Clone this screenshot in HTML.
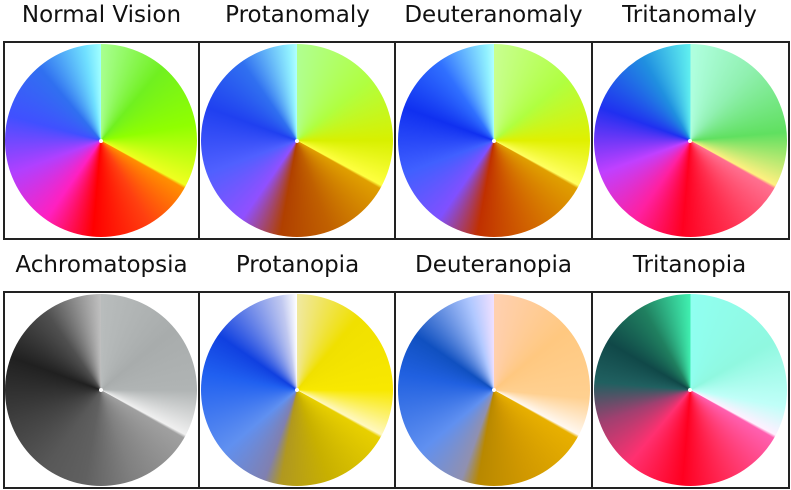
<!DOCTYPE html>
<html><head><meta charset="utf-8">
<style>
html,body{margin:0;padding:0;background:#fff;}
body{width:791px;height:490px;position:relative;overflow:hidden;font-family:"DejaVu Sans","Liberation Sans",sans-serif;}
.t{position:absolute;width:197px;text-align:center;font-size:23px;color:#111;white-space:nowrap;}
.box{position:absolute;border:2px solid #222;box-sizing:border-box;}
.w{position:absolute;border-radius:50%;}
.d{position:absolute;width:4px;height:4px;border-radius:50%;background:#fff;}
</style></head><body>
<div class="t" style="left:3px;top:2px">Normal Vision</div>
<div class="t" style="left:199px;top:2px">Protanomaly</div>
<div class="t" style="left:395px;top:2px">Deuteranomaly</div>
<div class="t" style="left:591px;top:2px">Tritanomaly</div>
<div class="t" style="left:3px;top:252px">Achromatopsia</div>
<div class="t" style="left:199px;top:252px">Protanopia</div>
<div class="t" style="left:395px;top:252px">Deuteranopia</div>
<div class="t" style="left:591px;top:252px">Tritanopia</div>

<div class="box" style="left:3px;top:41px;width:787px;height:199px"></div>
<div class="box" style="left:3px;top:291px;width:787px;height:198px"></div>
<div style="position:absolute;left:198px;top:41px;width:2px;height:199px;background:#222"></div>
<div style="position:absolute;left:394px;top:41px;width:2px;height:199px;background:#222"></div>
<div style="position:absolute;left:591px;top:41px;width:2px;height:199px;background:#222"></div>
<div style="position:absolute;left:198px;top:291px;width:2px;height:198px;background:#222"></div>
<div style="position:absolute;left:394px;top:291px;width:2px;height:198px;background:#222"></div>
<div style="position:absolute;left:591px;top:291px;width:2px;height:198px;background:#222"></div>

<div class="w" style="left:5px;top:44px;width:192px;height:193px;background:conic-gradient(#a8ff90 0deg,#70f020 40deg,#90ff00 80deg,#f0ff20 118deg,#ff9000 120deg,#ff4010 150deg,#ff0000 185deg,#ff20c0 215deg,#b040ff 250deg,#4050ff 285deg,#3070f0 320deg,#70e0ff 350deg,#a0ffff 360deg)"></div>
<div class="w" style="left:201px;top:44px;width:192px;height:193px;background:conic-gradient(#b0ff90 0deg,#b0ff40 50deg,#d8f000 90deg,#ffff40 118deg,#e0a000 120deg,#c06000 160deg,#b04000 190deg,#9050ff 215deg,#5060ff 250deg,#2040f0 290deg,#3070f0 325deg,#90f0ff 355deg,#b0ffff 360deg)"></div>
<div class="w" style="left:398px;top:44px;width:192px;height:193px;background:conic-gradient(#c8ff90 0deg,#b0ff40 50deg,#e0f000 90deg,#ffff60 118deg,#e0a000 120deg,#d06000 160deg,#c03000 190deg,#8050ff 215deg,#4060ff 250deg,#1030f0 290deg,#3070ff 325deg,#90f0ff 355deg,#b0ffff 360deg)"></div>
<div class="w" style="left:594px;top:44px;width:193px;height:193px;background:conic-gradient(#b0ffe0 0deg,#90f0b0 40deg,#60e060 85deg,#fff080 118deg,#ff7090 120deg,#ff3050 155deg,#ff0020 185deg,#ff20a0 215deg,#c040ff 250deg,#2030f0 290deg,#2090e0 330deg,#60f0f0 360deg)"></div>

<div class="w" style="left:5px;top:294px;width:192px;height:192px;background:conic-gradient(#b8bcbc 0deg,#a8acac 50deg,#b0b4b4 90deg,#f0f0f0 118deg,#a0a0a0 120deg,#808080 160deg,#606060 190deg,#585858 215deg,#404040 250deg,#202020 290deg,#505050 325deg,#b0b0b0 355deg,#c0c0c0 360deg)"></div>
<div class="w" style="left:201px;top:294px;width:192px;height:192px;background:conic-gradient(#f0e8a0 0deg,#f0e000 40deg,#f8e800 90deg,#fff8c0 118deg,#e8d000 120deg,#c8b000 160deg,#b09820 190deg,#8080b0 200deg,#6090f0 230deg,#2060f0 280deg,#1040e0 305deg,#c0c8f0 350deg,#ffffff 360deg)"></div>
<div class="w" style="left:398px;top:294px;width:192px;height:192px;background:conic-gradient(#ffd0b0 0deg,#ffc880 50deg,#ffd090 95deg,#fff8f0 118deg,#e8b000 120deg,#d09800 160deg,#b88800 190deg,#9090b0 200deg,#6090f0 230deg,#2060e0 280deg,#1050c0 305deg,#b0c8ff 345deg,#f0e0ff 360deg)"></div>
<div class="w" style="left:594px;top:294px;width:193px;height:192px;background:conic-gradient(#90fff0 0deg,#90f8e0 60deg,#c0fff8 100deg,#fff0ff 118deg,#ff60b0 120deg,#ff3060 155deg,#ff0020 185deg,#ff3070 220deg,#a04070 250deg,#206060 275deg,#104848 300deg,#208060 330deg,#40f0b0 360deg)"></div>

<div class="d" style="left:99px;top:139px"></div>
<div class="d" style="left:295px;top:139px"></div>
<div class="d" style="left:492px;top:139px"></div>
<div class="d" style="left:688px;top:139px"></div>
<div class="d" style="left:99px;top:388px"></div>
<div class="d" style="left:295px;top:388px"></div>
<div class="d" style="left:492px;top:388px"></div>
<div class="d" style="left:688px;top:388px"></div>
</body></html>
